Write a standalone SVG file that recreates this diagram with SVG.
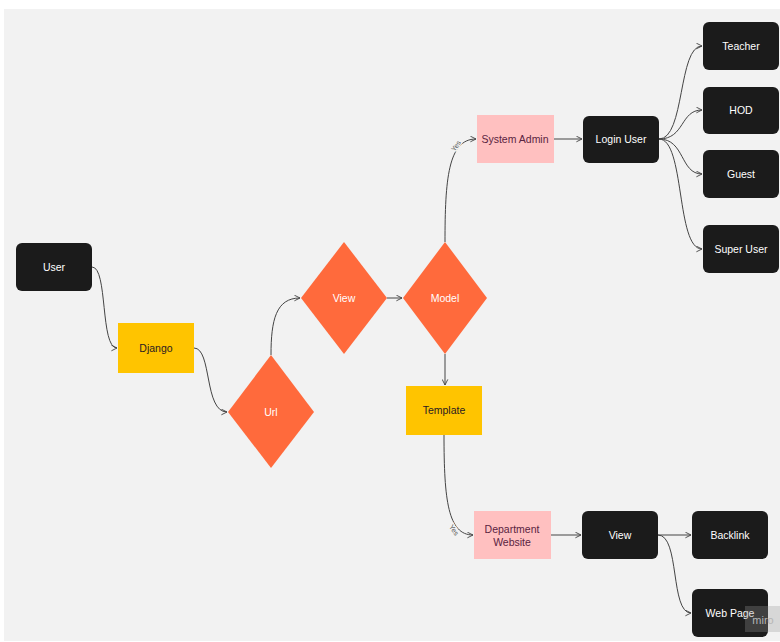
<svg xmlns="http://www.w3.org/2000/svg" width="780" height="642" viewBox="0 0 780 642">
<defs>
<style>
.dark{fill:#1b1b1b}
.yel{fill:#ffc400}
.org{fill:#ff6a3c}
.pink{fill:#ffc0c0}
.tw{fill:#ffffff;font-family:"Liberation Sans",Arial,sans-serif;font-size:10.5px;text-anchor:middle;dominant-baseline:central}
.td{fill:#2a1a22;font-family:"Liberation Sans",Arial,sans-serif;font-size:10.5px;text-anchor:middle;dominant-baseline:central}
.tp{fill:#5a2340;font-family:"Liberation Sans",Arial,sans-serif;font-size:10.5px;text-anchor:middle;dominant-baseline:central}
.lbl{fill:#555;font-family:"Liberation Sans",Arial,sans-serif;font-size:7px;text-anchor:middle;dominant-baseline:central;stroke:#f2f2f2;stroke-width:2.5px;paint-order:stroke}
.c{fill:none;stroke:#444;stroke-width:1}
</style>
<marker id="arr" viewBox="0 0 10 10" refX="9" refY="5" markerWidth="7" markerHeight="7" orient="auto" markerUnits="userSpaceOnUse">
<path d="M1,1 L9,5 L1,9" fill="none" stroke="#444" stroke-width="1.3"/>
</marker>
</defs>
<rect x="0" y="0" width="780" height="642" fill="#ffffff"/>
<rect x="4" y="9" width="776" height="632" fill="#f2f2f2"/>

<g id="connectors">
<path class="c" d="M92,267 C108,267 100,348 117,348" marker-end="url(#arr)"/>
<path class="c" d="M194,348 C212,348 204,412 227,412" marker-end="url(#arr)"/>
<path class="c" d="M271,355 C271,320 276,298 300,298" marker-end="url(#arr)"/>
<path class="c" d="M387,298 L402,298" marker-end="url(#arr)"/>
<path class="c" d="M445,242 C445,180 448,139 476,139" marker-end="url(#arr)"/>
<path class="c" d="M445,354 L445,385" marker-end="url(#arr)"/>
<path class="c" d="M444,435 C444,500 448,535 473,535" marker-end="url(#arr)"/>
<path class="c" d="M554,139 L582,139" marker-end="url(#arr)"/>
<path class="c" d="M659,139 C685,139 678,46 702,46" marker-end="url(#arr)"/>
<path class="c" d="M659,139 C685,139 680,110 702,110" marker-end="url(#arr)"/>
<path class="c" d="M659,139 C685,139 680,174 702,174" marker-end="url(#arr)"/>
<path class="c" d="M659,139 C685,139 676,249 702,249" marker-end="url(#arr)"/>
<path class="c" d="M551,535 L581,535" marker-end="url(#arr)"/>
<path class="c" d="M658,535 L691,535" marker-end="url(#arr)"/>
<path class="c" d="M658,535 C680,535 670,613 691,613" marker-end="url(#arr)"/>
<text class="lbl" transform="translate(456,146) rotate(-55)">Yes</text>
<text class="lbl" transform="translate(454,530) rotate(55)">Yes</text>
</g>

<g id="user"><rect class="dark" x="16" y="243" width="76" height="48" rx="6"/><text class="tw" x="54" y="267">User</text></g>
<g id="django"><rect class="yel" x="118" y="323" width="76" height="50"/><text class="td" x="156" y="348">Django</text></g>
<g id="url"><polygon class="org" points="271,355 314,412 271,468 228,412"/><text class="tw" x="271" y="412">Url</text></g>
<g id="view1"><polygon class="org" points="344,242 387,298 344,354 301,298"/><text class="tw" x="344" y="298">View</text></g>
<g id="model"><polygon class="org" points="445,242 487,298 445,354 403,298"/><text class="tw" x="445" y="298">Model</text></g>
<g id="template"><rect class="yel" x="406" y="386" width="76" height="49"/><text class="td" x="444" y="410">Template</text></g>
<g id="sysadmin"><rect class="pink" x="477" y="115" width="77" height="48"/><text class="tp" x="515" y="139">System Admin</text></g>
<g id="login"><rect class="dark" x="583" y="116" width="76" height="47" rx="6"/><text class="tw" x="621" y="139">Login User</text></g>
<g id="teacher"><rect class="dark" x="703" y="22" width="76" height="48" rx="6"/><text class="tw" x="741" y="46">Teacher</text></g>
<g id="hod"><rect class="dark" x="703" y="87" width="76" height="47" rx="6"/><text class="tw" x="741" y="110">HOD</text></g>
<g id="guest"><rect class="dark" x="703" y="150" width="76" height="48" rx="6"/><text class="tw" x="741" y="174">Guest</text></g>
<g id="superuser"><rect class="dark" x="703" y="225" width="76" height="48" rx="6"/><text class="tw" x="741" y="249">Super User</text></g>
<g id="deptweb"><rect class="pink" x="474" y="511" width="77" height="48"/><text class="tp" x="512" y="529">Department</text><text class="tp" x="512" y="542">Website</text></g>
<g id="view2"><rect class="dark" x="582" y="511" width="76" height="48" rx="6"/><text class="tw" x="620" y="535">View</text></g>
<g id="backlink"><rect class="dark" x="692" y="511" width="76" height="48" rx="6"/><text class="tw" x="730" y="535">Backlink</text></g>
<g id="webpage"><rect class="dark" x="692" y="589" width="76" height="48" rx="6"/><text class="tw" x="730" y="613">Web Page</text></g>
<g id="watermark"><rect x="745" y="606" width="35" height="26" fill="#999" fill-opacity="0.3"/><text x="763" y="620" fill="#b5b5b5" font-family="Liberation Sans,Arial,sans-serif" font-size="11" text-anchor="middle" dominant-baseline="central">miro</text></g>
</svg>
